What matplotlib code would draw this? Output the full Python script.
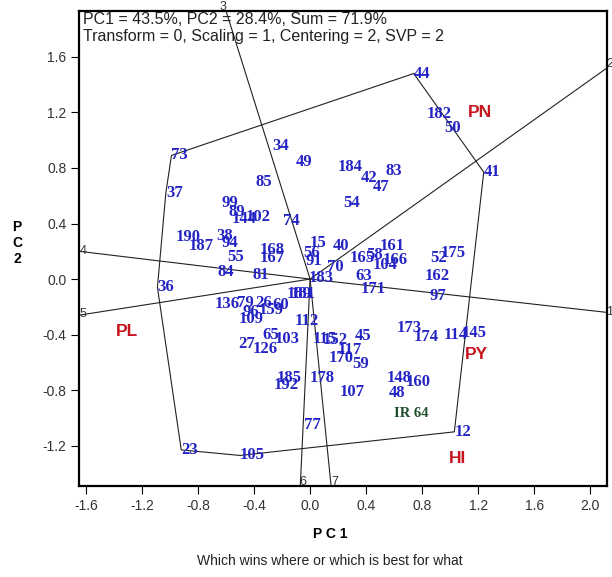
import matplotlib
matplotlib.use('Agg')
import matplotlib.pyplot as plt

# genotype scores (PC1, PC2)
gen_names = ['44', '182', '50', '41', '73', '37', '34', '49', '184', '42', '83', '47', '54',
             '85', '99', '89', '144', '102', '74', '15', '40', '161', '190', '187', '38', '94',
             '55', '168', '167', '84', '81', '36', '56', '91', '70', '183', '165', '58', '104',
             '166', '63', '171', '52', '175', '162', '97', '173', '174', '114', '145', '112',
             '115', '152', '45', '117', '170', '59', '178', '107', '148', '160', '48', '77', '12',
             '185', '192', '65', '103', '27', '126', '136', '79', '26', '96', '109', '159', '60',
             '189', '181', '23', '105']
gen_pc1 = [0.74, 0.83, 0.96, 1.24, -0.99, -1.03, -0.27, -0.10, 0.20, 0.36, 0.54, 0.45, 0.24,
           -0.39, -0.63, -0.58, -0.56, -0.46, -0.19, 0.00, 0.16, 0.50, -0.96, -0.87, -0.67, -0.63,
           -0.59, -0.36, -0.36, -0.66, -0.41, -1.09, -0.05, -0.03, 0.12, -0.01, 0.28, 0.40, 0.45,
           0.52, 0.32, 0.36, 0.86, 0.93, 0.82, 0.85, 0.62, 0.74, 0.95, 1.08, -0.11,
           0.02, 0.09, 0.32, 0.20, 0.13, 0.30, 0.00, 0.21, 0.55, 0.68, 0.56, -0.04, 1.03,
           -0.24, -0.26, -0.34, -0.25, -0.51, -0.41, -0.68, -0.52, -0.39, -0.48, -0.51, -0.37, -0.27,
           -0.17, -0.14, -0.92, -0.50]
gen_pc2 = [1.48, 1.19, 1.09, 0.77, 0.89, 0.62, 0.96, 0.84, 0.81, 0.73, 0.78, 0.66, 0.55,
           0.70, 0.55, 0.48, 0.43, 0.45, 0.42, 0.26, 0.24, 0.24, 0.30, 0.24, 0.31, 0.26,
           0.16, 0.21, 0.15, 0.05, 0.03, -0.06, 0.19, 0.13, 0.09, 0.01, 0.15, 0.17, 0.10,
           0.14, 0.02, -0.07, 0.15, 0.19, 0.02, -0.12, -0.35, -0.42, -0.40, -0.39, -0.30,
           -0.43, -0.44, -0.41, -0.51, -0.57, -0.61, -0.71, -0.81, -0.71, -0.74, -0.82, -1.05, -1.10,
           -0.71, -0.76, -0.40, -0.43, -0.47, -0.50, -0.18, -0.17, -0.17, -0.24, -0.29, -0.22, -0.19,
           -0.11, -0.11, -1.23, -1.27]

# polygon vertices (genotypes on the hull)
hull = ['44', '41', '12', '105', '23', '36', '37', '73']

# sector lines from origin, end points at frame
sector_ids = ['1', '2', '3', '4', '5', '6', '7']
sector_x = [2.12, 2.12, -0.60, -1.65, -1.65, -0.07, 0.15]
sector_y = [-0.24, 1.52, 1.93, 0.20, -0.26, -1.49, -1.49]
# small shift of the number labels, in points
sector_dx = [2, 2, -2, 3, 3, 2, 3]
sector_dy = [0, 3, 3, 0, 1, 3, 3]

# mega-environment names
env_names = ['PN', 'PL', 'PY', 'HI']
env_x = [1.21, -1.31, 1.19, 1.05]
env_y = [1.20, -0.375, -0.54, -1.29]

check_name = 'IR 64'
check_xy = (0.72, -0.965)

fig = plt.figure(figsize=(6.12, 5.77), dpi=100)
ax = fig.add_axes([0.1291, 0.1577, 0.8627, 0.8232])
ax.set_xlim(-1.65, 2.12)
ax.set_ylim(-1.49, 1.93)

pos = dict(zip(gen_names, zip(gen_pc1, gen_pc2)))

# polygon
px = [pos[g][0] for g in hull] + [pos[hull[0]][0]]
py = [pos[g][1] for g in hull] + [pos[hull[0]][1]]
ax.plot(px, py, color='#222222', lw=0.8)

# sector lines
for sid, sx, sy, dx, dy in zip(sector_ids, sector_x, sector_y, sector_dx, sector_dy):
    ax.plot([0, sx], [0, sy], color='#222222', lw=0.8, clip_on=False)
    ax.annotate(sid, (sx, sy), xytext=(dx, dy), textcoords='offset points', fontsize=9,
                color='#333333', ha='center', va='center', family='Liberation Sans',
                annotation_clip=False)

# genotypes
for g, x, y in zip(gen_names, gen_pc1, gen_pc2):
    ax.text(x, y, g, fontsize=12, color='#2424c4', fontweight='bold',
            family='Liberation Serif', ha='left', va='center')

for e, x, y in zip(env_names, env_x, env_y):
    ax.text(x, y, e, fontsize=12.5, color='#c8141e', fontweight='bold',
            family='Liberation Sans', ha='center', va='center')

ax.text(check_xy[0], check_xy[1], check_name, fontsize=10.5, color='#1e4d2b', fontweight='bold',
        family='Liberation Serif', ha='center', va='center')

ax.set_xticks([-1.6, -1.2, -0.8, -0.4, 0.0, 0.4, 0.8, 1.2, 1.6, 2.0])
ax.set_yticks([-1.2, -0.8, -0.4, 0.0, 0.4, 0.8, 1.2, 1.6])
ax.xaxis.set_major_formatter(matplotlib.ticker.FormatStrFormatter('%.1f'))
ax.yaxis.set_major_formatter(matplotlib.ticker.FormatStrFormatter('%.1f'))
ax.tick_params(direction='out', length=6, width=0.8, labelsize=10, labelcolor='#333333', pad=3)
for lab in ax.get_xticklabels() + ax.get_yticklabels():
    lab.set_family('Liberation Sans')
for s in ax.spines.values():
    s.set_linewidth(1.6)

fig.text(83/612, 1-20/577, 'PC1 = 43.5%, PC2 = 28.4%, Sum = 71.9%', fontsize=11.5,
         family='Liberation Sans', color='#222222', va='center')
fig.text(83/612, 1-37/577, 'Transform = 0, Scaling = 1, Centering = 2, SVP = 2', fontsize=11.5,
         family='Liberation Sans', color='#222222', va='center')

fig.text(17/612, 1-243/577, 'P\nC\n2', fontsize=10, fontweight='bold', family='Liberation Sans',
         ha='center', va='center', linespacing=1.2)
fig.text(330/612, 1-534/577, 'P C 1', fontsize=10, fontweight='bold', family='Liberation Sans',
         ha='center', va='center')
fig.text(330/612, 1-561/577, 'Which wins where or which is best for what', fontsize=10,
         family='Liberation Sans', color='#222222', ha='center', va='center')

fig.savefig('out.png', dpi=100)
